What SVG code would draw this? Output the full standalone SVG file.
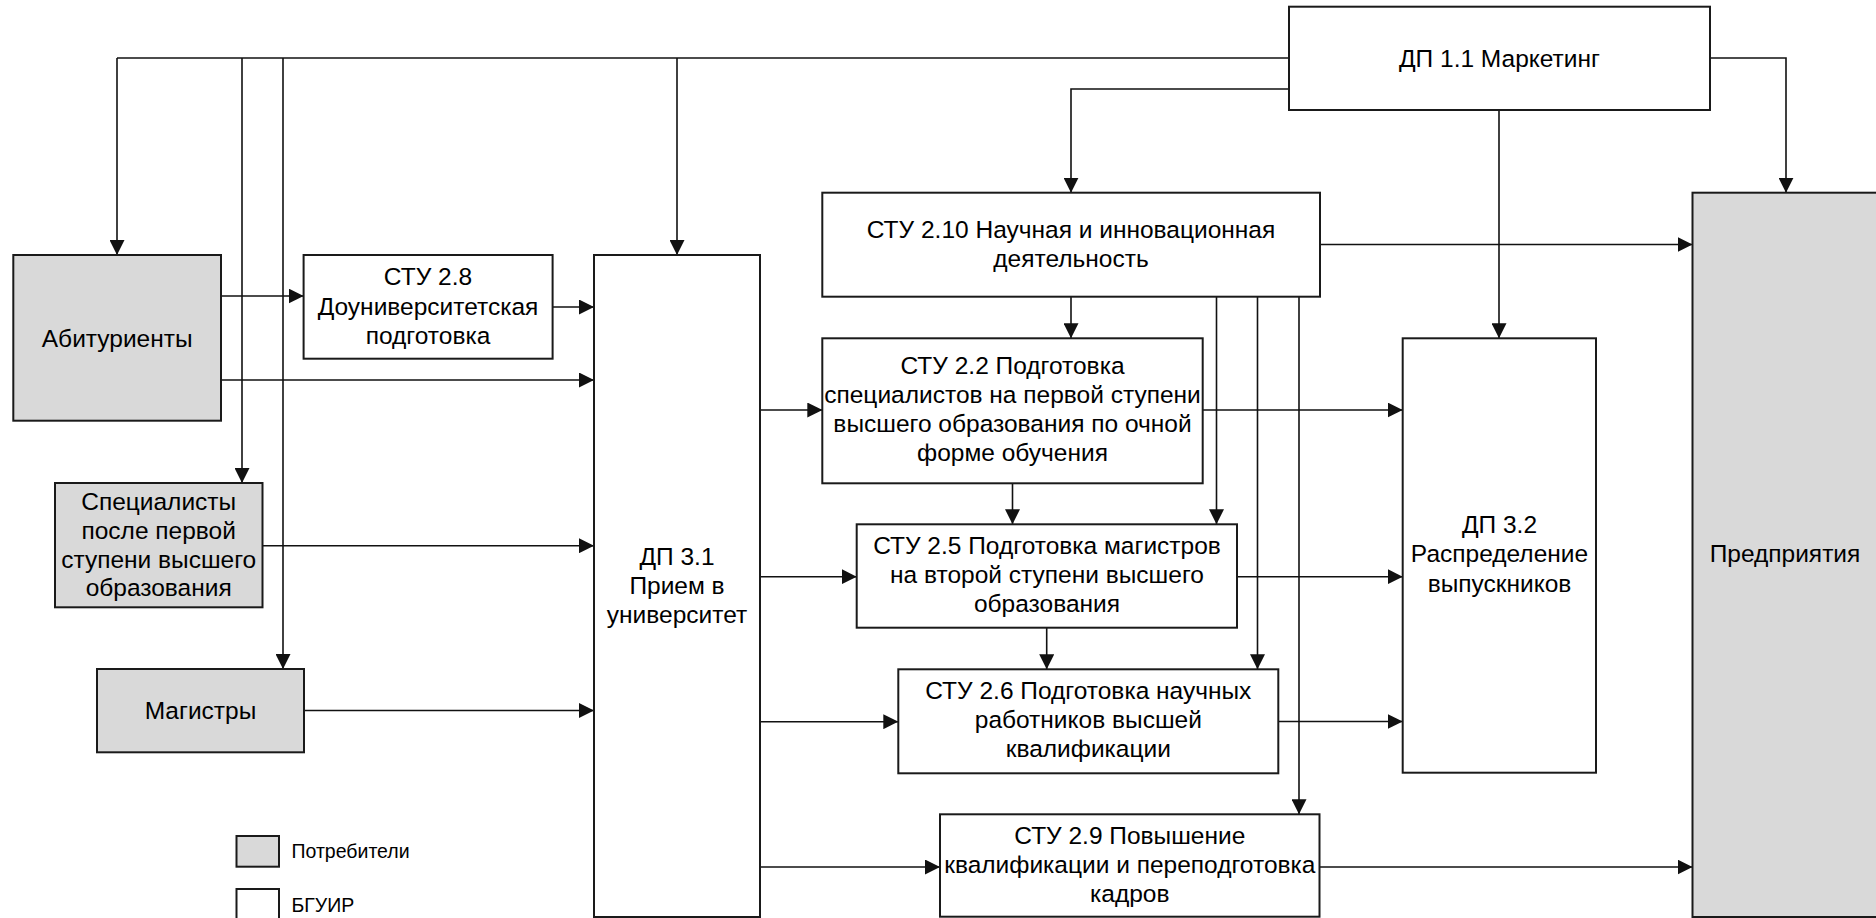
<svg xmlns="http://www.w3.org/2000/svg" width="1876" height="918" viewBox="0 0 1876 918">
<defs>
<marker id="arr" markerUnits="userSpaceOnUse" markerWidth="15" markerHeight="15" refX="15" refY="7.5" orient="auto">
<path d="M0,0 L15,7.5 L0,15 z" fill="#111"/>
</marker>
<style>
.b{fill:#fff;stroke:#1a1a1a;stroke-width:2}
.g{fill:#d9d9d9;stroke:#1a1a1a;stroke-width:2}
.c path{fill:none;stroke:#111;stroke-width:1.6}
.c .a{marker-end:url(#arr)}
text{font-family:"Liberation Sans",Arial,sans-serif;font-size:24.5px;fill:#000;text-anchor:middle}
.lg{font-size:19.5px;text-anchor:start}
</style>
</defs>
<rect width="1876" height="918" fill="#fff"/>
<g class="c" id="connectors">
<path d="M1289,58 H117"/>
<path class="a" d="M117,58 V255"/>
<path class="a" d="M242,58 V483"/>
<path class="a" d="M283,58 V669"/>
<path class="a" d="M677,58 V255"/>
<path class="a" d="M1289,89 H1071 V192.7"/>
<path class="a" d="M1710,58 H1786 V192.7"/>
<path class="a" d="M1499,110 V338.3"/>
<path class="a" d="M221,296 H303.6"/>
<path class="a" d="M552.7,307 H594"/>
<path class="a" d="M221,380 H594"/>
<path class="a" d="M262.5,545.7 H594"/>
<path class="a" d="M304,710.5 H594"/>
<path class="a" d="M760,410 H822.3"/>
<path class="a" d="M760,576.7 H856.7"/>
<path class="a" d="M760,721.7 H898.3"/>
<path class="a" d="M760,867 H940"/>
<path class="a" d="M1320,244.5 H1692.5"/>
<path class="a" d="M1071,296.7 V338.3"/>
<path class="a" d="M1216.5,296.7 V524.3"/>
<path class="a" d="M1257.5,296.7 V669.3"/>
<path class="a" d="M1299,296.7 V814.3"/>
<path class="a" d="M1202.7,410 H1402.7"/>
<path class="a" d="M1012.5,483.3 V524.3"/>
<path class="a" d="M1237,576.7 H1402.7"/>
<path class="a" d="M1046.7,627.7 V669.3"/>
<path class="a" d="M1278.3,721.5 H1402.7"/>
<path class="a" d="M1319.5,867 H1692.5"/>
</g>
<g id="marketing"><rect class="b" x="1289" y="6.7" width="421" height="103.3"/><text x="1499.5" y="66.7">ДП 1.1 Маркетинг</text></g>
<g id="abiturienty"><rect class="g" x="13.3" y="255" width="207.7" height="165.7"/><text x="117.2" y="346.5">Абитуриенты</text></g>
<g id="stu28"><rect class="b" x="303.6" y="255" width="249" height="103.7"/><text x="428" y="285">СТУ 2.8</text><text x="428" y="314.5">Доуниверситетская</text><text x="428" y="343.5">подготовка</text></g>
<g id="specialisty"><rect class="g" x="55" y="483" width="207.5" height="124.3"/><text x="158.7" y="509.5">Специалисты</text><text x="158.7" y="538.5">после первой</text><text x="158.7" y="567.5">ступени высшего</text><text x="158.7" y="596.3">образования</text></g>
<g id="magistry"><rect class="g" x="97" y="669" width="207" height="83.3"/><text x="200.5" y="719">Магистры</text></g>
<g id="dp31"><rect class="b" x="594" y="255" width="166" height="662"/><text x="677" y="565">ДП 3.1</text><text x="677" y="594.3">Прием в</text><text x="677" y="623.3">университет</text></g>
<g id="stu210"><rect class="b" x="822.3" y="192.7" width="497.7" height="104"/><text x="1071" y="238.3">СТУ 2.10 Научная и инновационная</text><text x="1071" y="267.3">деятельность</text></g>
<g id="stu22"><rect class="b" x="822.3" y="338.3" width="380.4" height="145"/><text x="1012.5" y="374">СТУ 2.2 Подготовка</text><text x="1012.5" y="403">специалистов на первой ступени</text><text x="1012.5" y="432">высшего образования по очной</text><text x="1012.5" y="460.5">форме обучения</text></g>
<g id="stu25"><rect class="b" x="856.7" y="524.3" width="380.3" height="103.4"/><text x="1047" y="554">СТУ 2.5 Подготовка магистров</text><text x="1047" y="583">на второй ступени высшего</text><text x="1047" y="612">образования</text></g>
<g id="stu26"><rect class="b" x="898.3" y="669.3" width="380" height="104"/><text x="1088.3" y="699">СТУ 2.6 Подготовка научных</text><text x="1088.3" y="728">работников высшей</text><text x="1088.3" y="757">квалификации</text></g>
<g id="stu29"><rect class="b" x="940" y="814.3" width="379.5" height="102.4"/><text x="1129.8" y="844.3">СТУ 2.9 Повышение</text><text x="1129.8" y="873.3">квалификации и переподготовка</text><text x="1129.8" y="901.7">кадров</text></g>
<g id="dp32"><rect class="b" x="1402.7" y="338.3" width="193.3" height="434.4"/><text x="1499.5" y="533.3">ДП 3.2</text><text x="1499.5" y="562.3">Распределение</text><text x="1499.5" y="591.7">выпускников</text></g>
<g id="predpriyatiya"><rect class="g" x="1692.5" y="192.7" width="200" height="724.3"/><text x="1785" y="562">Предприятия</text></g>
<g id="legend"><rect class="g" x="236.5" y="836" width="42.5" height="30.7"/><text class="lg" x="291.5" y="858.3">Потребители</text><rect class="b" x="236.5" y="889" width="42.5" height="40"/><text class="lg" x="291.5" y="911.7">БГУИР</text></g>
</svg>
